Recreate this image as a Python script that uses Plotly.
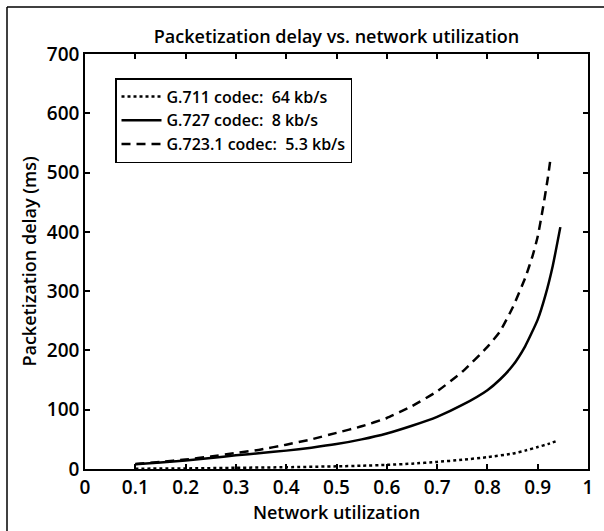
import plotly.graph_objects as go

# ---- data ----
util_711 = [0.1, 0.2, 0.3, 0.4, 0.5, 0.55, 0.6, 0.65, 0.7, 0.75, 0.8, 0.85, 0.875, 0.9, 0.92, 0.94]
delay_711 = [0.5, 1, 2, 3, 4.5, 5.5, 7, 9, 12, 15.5, 20, 26, 31, 37, 42, 48]

util_727 = [0.1, 0.15, 0.2, 0.25, 0.3, 0.35, 0.4, 0.45, 0.5, 0.55, 0.6, 0.65, 0.7, 0.75,
            0.8, 0.825, 0.85, 0.875, 0.9, 0.915, 0.93, 0.945]
delay_727 = [8, 11, 14.5, 18.5, 23, 27, 31, 36, 42, 50, 60, 73, 88, 108,
             133, 151, 174, 207, 252, 292, 343, 408]

util_7231 = [0.1, 0.15, 0.2, 0.25, 0.3, 0.35, 0.4, 0.45, 0.5, 0.55, 0.6, 0.65, 0.7, 0.75,
             0.8, 0.825, 0.85, 0.875, 0.89, 0.9, 0.91, 0.92, 0.926]
delay_7231 = [8.5, 12, 16, 21, 27, 33, 41, 50, 61, 72, 86, 106, 131, 164,
              206, 232, 272, 322, 360, 392, 438, 490, 527]

series_names = ["G.711 codec:\u00a0 64 kb/s", "G.727 codec:\u00a0 8 kb/s", "G.723.1 codec:\u00a0 5.3 kb/s"]

x_ticks = [0, 0.1, 0.2, 0.3, 0.4, 0.5, 0.6, 0.7, 0.8, 0.9, 1]
x_tick_labels = ["0", "0.1", "0.2", "0.3", "0.4", "0.5", "0.6", "0.7", "0.8", "0.9", "1"]
y_ticks = [0, 100, 200, 300, 400, 500, 600, 700]

title_text = "Packetization delay vs. network utilization"
x_title = "Network utilization"
y_title = "Packetization delay (ms)"

FONT = "Open Sans"

fig = go.Figure()
fig.add_trace(go.Scatter(x=util_711, y=delay_711, mode="lines", name=series_names[0],
                         line=dict(color="black", width=2.5, dash="dot", shape="spline", smoothing=0.5)))
fig.add_trace(go.Scatter(x=util_727, y=delay_727, mode="lines", name=series_names[1],
                         line=dict(color="black", width=2.5, dash="solid", shape="spline", smoothing=0.5)))
fig.add_trace(go.Scatter(x=util_7231, y=delay_7231, mode="lines", name=series_names[2],
                         line=dict(color="black", width=2.5, dash="9px,6px", shape="spline", smoothing=0.5)))

axis_common = dict(showgrid=False, zeroline=False, showline=True, linecolor="black",
                   linewidth=1.5, mirror="ticks", ticks="inside", ticklen=5,
                   tickcolor="black", tickwidth=1.5, automargin=False,
                   tickfont=dict(family=FONT, size=19, color="black", weight=600))

fig.update_xaxes(range=[0, 1], tickvals=x_ticks, ticktext=x_tick_labels,
                 title=dict(text=x_title, font=dict(family=FONT, size=18, color="black", weight=600),
                            standoff=4),
                 **axis_common)
fig.update_yaxes(range=[0, 700], tickvals=y_ticks,
                 title=dict(text=y_title, font=dict(family=FONT, size=18, color="black", weight=600),
                            standoff=6),
                 **axis_common)

# outer frame of the figure
L, R, T, B = 85, 16, 54, 62
W, H = 604, 531
pw, ph = W - L - R, H - T - B
def px_x(p):
    return (p - L) / pw
def px_y(p):
    return 1 - (p - T) / ph

fig.add_shape(type="line", xref="paper", yref="paper",
              x0=px_x(7), x1=px_x(604), y0=px_y(7), y1=px_y(7),
              line=dict(color="black", width=1.5))
fig.add_shape(type="line", xref="paper", yref="paper",
              x0=px_x(7), x1=px_x(7), y0=px_y(7), y1=px_y(531),
              line=dict(color="black", width=1.5))

fig.update_layout(
    width=W, height=H,
    margin=dict(l=L, r=R, t=T, b=B, autoexpand=False),
    paper_bgcolor="white", plot_bgcolor="white",
    font=dict(family=FONT, color="black"),
    title=dict(text=title_text, x=0.5, xref="paper", xanchor="center",
               y=1 - 37 / H, yanchor="middle",
               font=dict(family=FONT, size=18, color="black", weight=600)),
    legend=dict(x=px_x(115), y=px_y(78), xanchor="left", yanchor="top",
                bgcolor="white", bordercolor="black", borderwidth=1.5,
                font=dict(family=FONT, size=16, color="black", weight=600),
                tracegroupgap=0, itemwidth=40),
    showlegend=True,
)

fig.write_html("out.html",
               config={"displayModeBar": False},
               post_script="document.body.style.margin='0';document.body.style.overflow='hidden';")
